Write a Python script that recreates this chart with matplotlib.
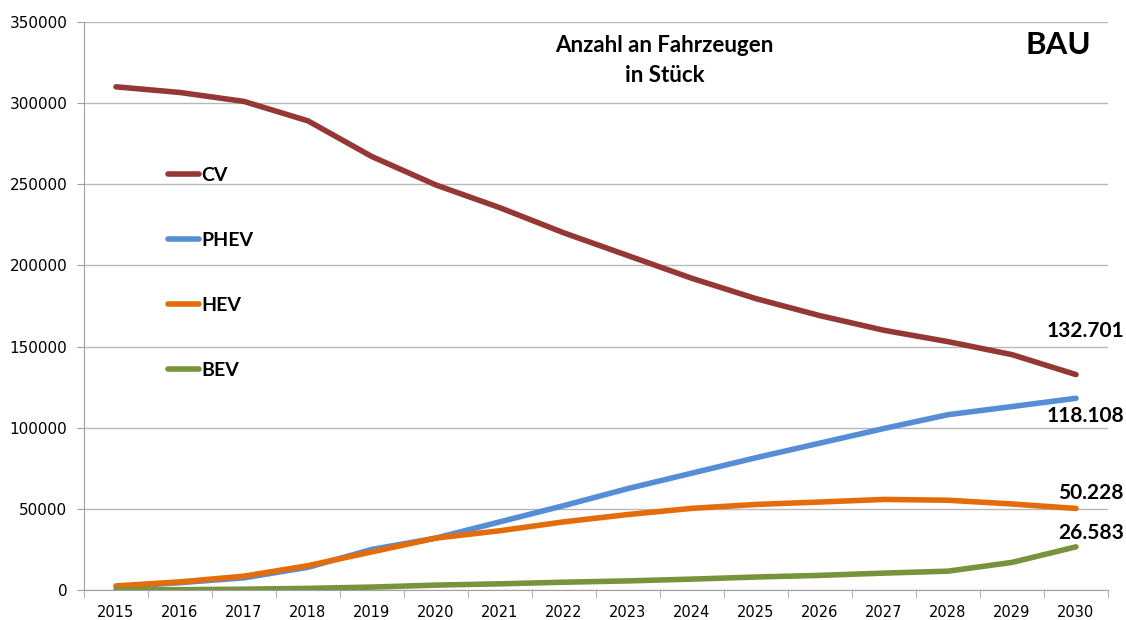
"""Anzahl an Fahrzeugen (BAU scenario), line chart per drivetrain."""
import matplotlib
matplotlib.use("Agg")
import matplotlib.pyplot as plt  # noqa: E402

years = [str(y) for y in range(2015, 2031)]
cv = [310000, 306500, 301000, 289000, 267000, 249500, 235500, 220000,
      206000, 192000, 179500, 169000, 160000, 153000, 145000, 132701]
phev = [2000, 4500, 7500, 14000, 25000, 32000, 42000, 52000,
        62500, 72000, 81500, 90500, 99500, 108000, 113000, 118108]
hev = [2500, 5000, 8500, 15000, 23500, 32000, 36500, 42000,
       46500, 50300, 52700, 54200, 55800, 55300, 53000, 50228]
bev = [0, 200, 500, 1000, 1800, 3000, 3800, 4800,
       5600, 6700, 8000, 9000, 10400, 11600, 17000, 26583]
end_labels = ["132.701", "118.108", "50.228", "26.583"]

series = [("CV", cv, "#953735"), ("PHEV", phev, "#558ed5"),
          ("HEV", hev, "#e46c0a"), ("BEV", bev, "#77933c")]

fig = plt.figure(figsize=(11.26, 6.2), dpi=100)
ax = fig.add_axes([0.0746, 0.0484, 0.9094, 0.9163])

x = list(range(len(years)))
for name, vals, col in series:
    ax.plot(x, vals, color=col, lw=4, solid_capstyle="round", label=name)

ax.set_xlim(-0.5, len(years) - 0.5)
ax.set_ylim(0, 350000)
ax.set_yticks(range(0, 350001, 50000))
ax.set_yticklabels([str(v) for v in range(0, 350001, 50000)],
                   fontsize=11, family="DejaVu Sans")
ax.set_xticks(x)
ax.set_xticklabels(years, fontsize=10.5, family="DejaVu Sans")
ax.set_xticks([i - 0.5 for i in range(len(years) + 1)], minor=True)
ax.tick_params(axis="x", which="major", length=0, pad=11)
ax.tick_params(axis="x", which="minor", length=6, color="#a0a0a0")
ax.tick_params(axis="y", length=5, color="#a0a0a0", pad=7)
ax.grid(axis="y", color="#b8b8b8", lw=1)
ax.set_axisbelow(True)
for s in ("top", "right"):
    ax.spines[s].set_visible(False)
for s in ("left", "bottom"):
    ax.spines[s].set_color("#a0a0a0")

ax.legend(loc="upper left", bbox_to_anchor=(0.065, 0.775), frameon=False,
          handlelength=1.6, handletextpad=0.1, labelspacing=2.46,
          prop={"family": "Lato", "weight": "bold", "size": 14})

fig.text(0.590, 0.927, "Anzahl an Fahrzeugen", ha="center", va="center",
         family="Lato", weight="bold", fontsize=16)
fig.text(0.590, 0.879, "in Stück", ha="center", va="center",
         family="Lato", weight="bold", fontsize=16)
fig.text(0.9396, 0.927, "BAU", ha="center", va="center",
         family="Lato", weight="bold", fontsize=22.5)

# value labels at the 2030 end of each line
offsets = [26700, -10800, 9800, 8400]
for (name, vals, col), lab, dy in zip(series, end_labels, offsets):
    ax.annotate(lab, xy=(x[-1], vals[-1] + dy), xytext=(34.5, 0),
                textcoords="offset points", ha="right", va="center",
                family="Lato", weight="bold", fontsize=15, annotation_clip=False)

fig.savefig("out.png", dpi=100)
